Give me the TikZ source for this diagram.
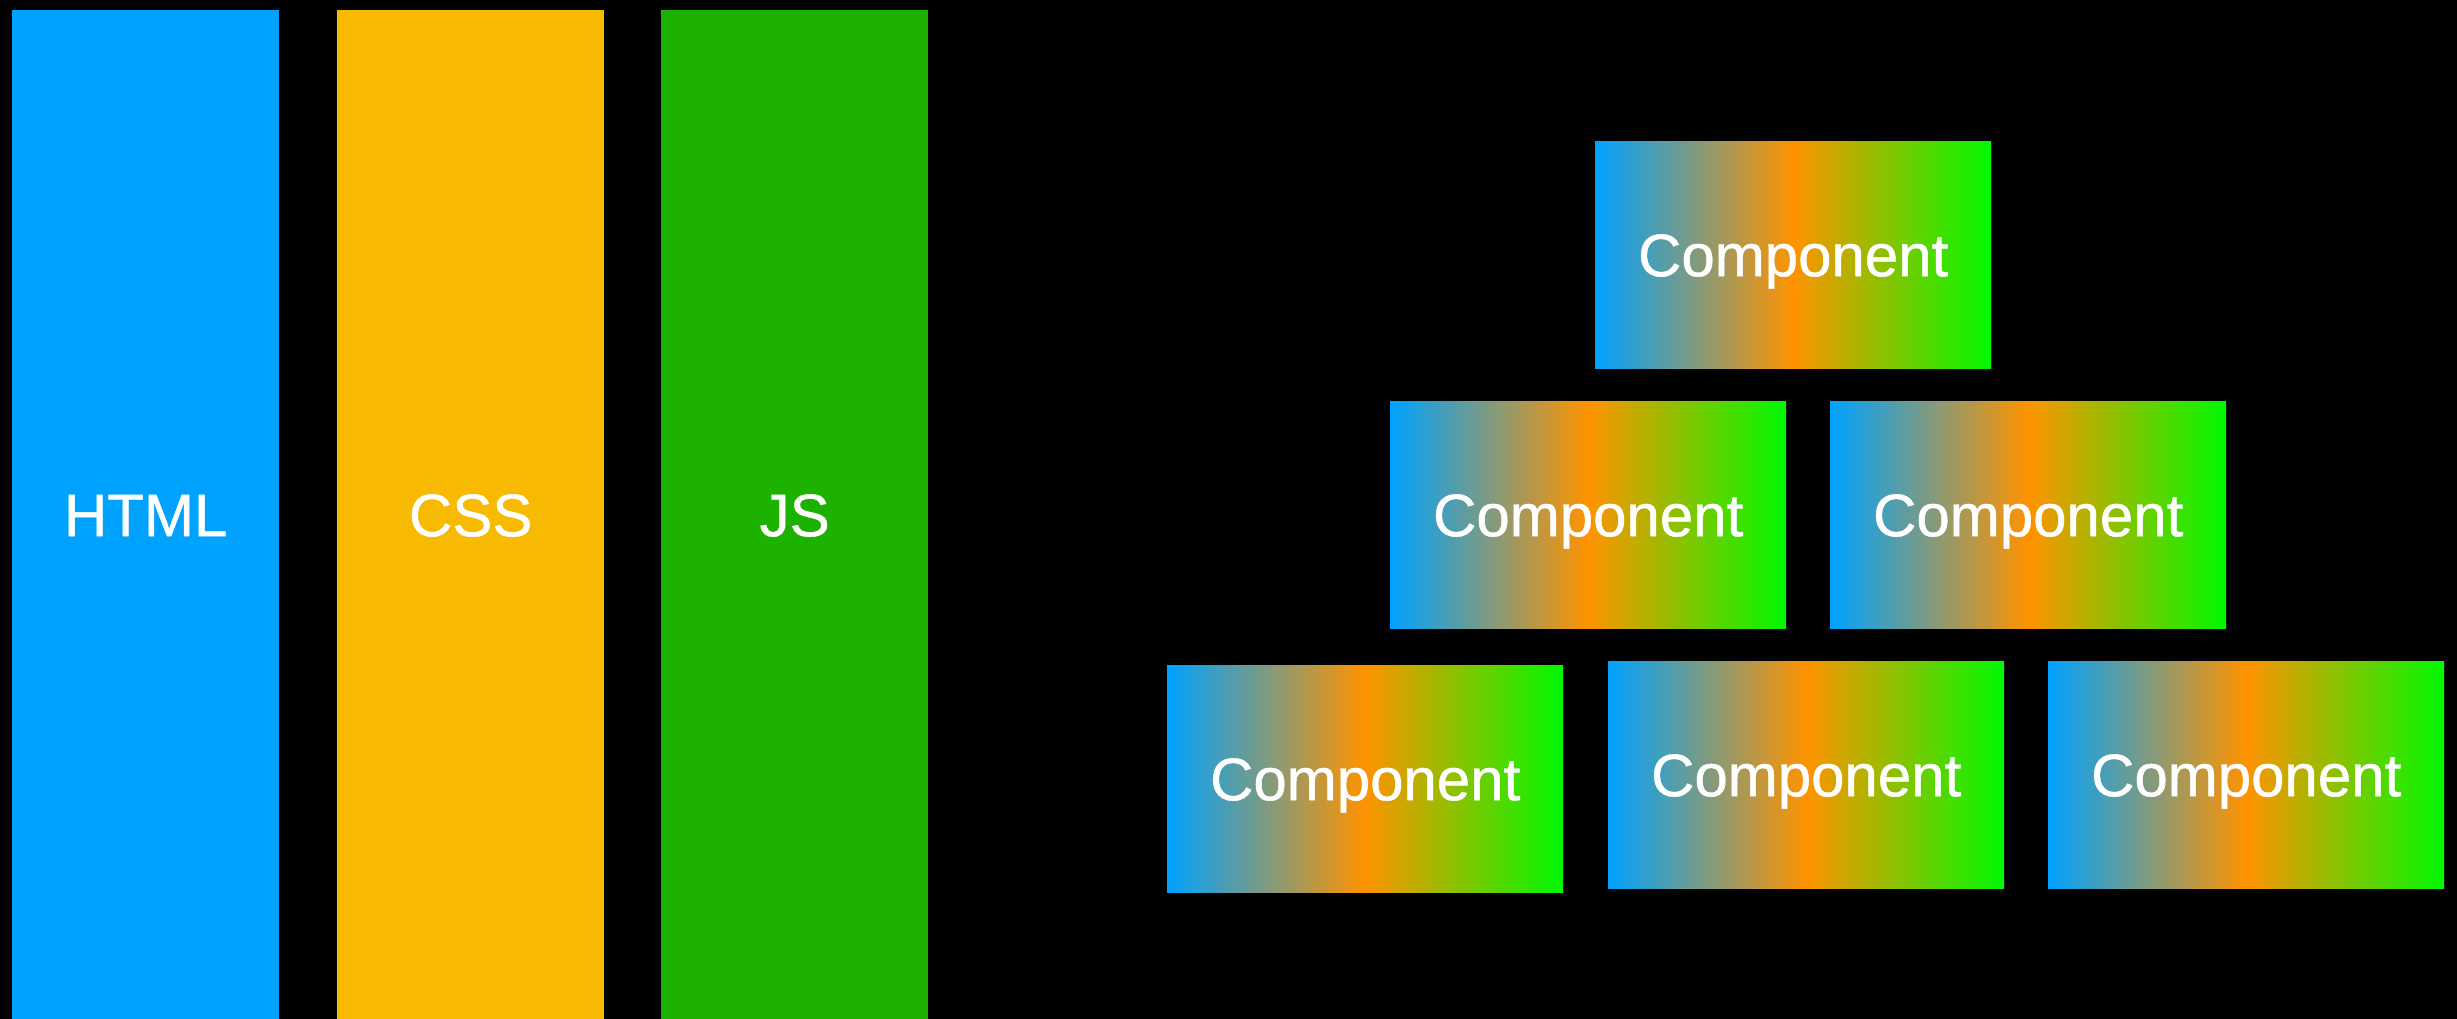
\documentclass[tikz,border=0pt]{standalone}
\usepackage{fontspec}
\setmainfont{Liberation Sans}
\newfontfamily\medfont{Liberation Sans}[FakeBold=0.8]
\definecolor{barblue}{HTML}{00A2FF}
\definecolor{baryellow}{HTML}{F8BA00}
\definecolor{bargreen}{HTML}{1DB100}
\definecolor{cblue}{HTML}{00A2FF}
\definecolor{corange}{HTML}{FF9300}
\definecolor{cgreen}{HTML}{00F900}
\pgfdeclarehorizontalshading{compshade}{100bp}{color(0bp)=(cblue); color(25bp)=(cblue); color(50bp)=(corange); color(75bp)=(cgreen); color(100bp)=(cgreen)}
\begin{document}
\begin{tikzpicture}[x=1pt,y=-1pt,
  lbl/.style={text=white, font=\medfont\fontsize{60}{60}\selectfont, inner sep=0pt, text height=43pt, text depth=0pt},
  bar/.style={lbl, minimum width=267pt, minimum height=1009pt, anchor=north west},
  comp/.style={lbl, shading=compshade, minimum width=396pt, minimum height=227pt, anchor=north west}]
\fill[black] (0,0) rectangle (2457,1019);
\useasboundingbox (0,0) rectangle (2457,1019);
\begin{scope}
\clip (0,0) rectangle (2457,1019);
\node[bar, fill=barblue] (html) at (12,10) {HTML};
\node[bar, fill=baryellow] (css) at (337,10) {CSS};
\node[bar, fill=bargreen] (js) at (661,10) {JS};
\end{scope}
\node[comp] (c1) at (1595,141) {Component};
\node[comp] (c2) at (1390,401) {Component};
\node[comp] (c3) at (1830,401) {Component};
\node[comp] (c4) at (1167,665) {Component};
\node[comp] (c5) at (1608,661) {Component};
\node[comp] (c6) at (2048,661) {Component};
\end{tikzpicture}
\end{document}
